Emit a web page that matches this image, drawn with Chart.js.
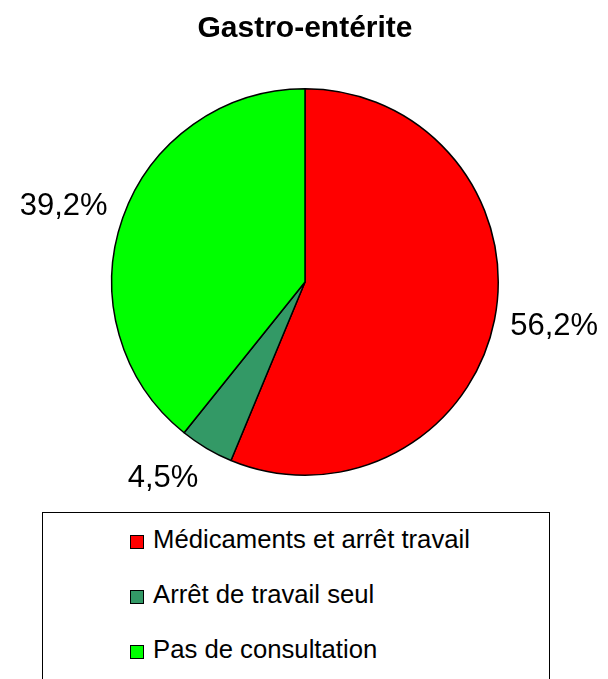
<!DOCTYPE html>
<html>
<head>
<meta charset="utf-8">
<script src="https://cdn.jsdelivr.net/npm/chart.js@4/dist/chart.umd.min.js"></script>
<style>
  body { margin: 0; background: #fff; overflow: hidden; }
  #wrap { position: relative; width: 608px; height: 679px; }
  #myChart { position: absolute; left: 0; top: 0; }
  .legendBox {
    position: absolute; left: 42px; top: 512px; width: 506px; height: 200px;
    border: 1px solid #000; background: #fff;
    font-family: "Liberation Sans", Arial, sans-serif; font-size: 25.7px; color: #000;
  }
  .legendBox .item { position: absolute; left: 0; height: 55px; line-height: 55px; white-space: nowrap; }
  .legendBox .sq { position: absolute; left: 87px; top: 23px; width: 12px; height: 12px; border: 1px solid #000; }
  .legendBox .txt { position: absolute; left: 110px; top: 0; }
</style>
</head>
<body>
<div id="wrap">
  <canvas id="myChart" width="608" height="679"></canvas>
  <div class="legendBox" id="legend"></div>
</div>
<script>
// données
var categories = ['Médicaments et arrêt travail', 'Arrêt de travail seul', 'Pas de consultation'];
var values = [56.2, 4.5, 39.2];
var colors = ['#ff0000', '#339966', '#00ff00'];
var chartTitle = 'Gastro-entérite';

var FONT = '"Liberation Sans", Arial, sans-serif';

function fmt(v){
	return v.toFixed(1).replace('.', ',') + '%';
}

// étiquettes à l'extérieur des parts
var outsideLabels = {
	id: 'outsideLabels',
	afterDatasetsDraw: function(chart){
		var ctx = chart.ctx;
		var meta = chart.getDatasetMeta(0);
		ctx.save();
		ctx.font = '31px ' + FONT;
		ctx.fillStyle = '#000';
		ctx.textBaseline = 'middle';
		meta.data.forEach(function(arc, i){
			var p = arc.getProps(['x', 'y', 'startAngle', 'endAngle', 'outerRadius'], true);
			var mid = (p.startAngle + p.endAngle) / 2;
			var c = Math.cos(mid), s = Math.sin(mid);
			var r = p.outerRadius + 16;
			var ax = p.x + r * c;
			var ay = p.y + r * s + s * 19;
			ctx.textAlign = c >= 0 ? 'left' : 'right';
			ctx.fillText(fmt(values[i]), ax, ay);
		});
		ctx.restore();
	}
};

// fond blanc
var whiteBg = {
	id: 'whiteBg',
	beforeDraw: function(chart){
		var ctx = chart.ctx;
		ctx.save();
		ctx.fillStyle = '#fff';
		ctx.fillRect(0, 0, chart.width, chart.height);
		ctx.restore();
	}
};

new Chart(document.getElementById('myChart'), {
	type: 'pie',
	data: {
		labels: categories,
		datasets: [{
			data: values,
			backgroundColor: colors,
			borderColor: '#000',
			borderWidth: 1.5,
			hoverBorderWidth: 1.5
		}]
	},
	options: {
		responsive: false,
		devicePixelRatio: 1,
		animation: false,
		layout: { padding: { left: 111, right: 109, top: 0, bottom: 203 } },
		plugins: {
			legend: { display: false },
			tooltip: { enabled: false },
			title: {
				display: true,
				text: chartTitle,
				color: '#000',
				font: { family: FONT, size: 30, weight: 'bold', lineHeight: 1.2 },
				padding: { top: 10.5, bottom: 41.5 }
			}
		}
	},
	plugins: [whiteBg, outsideLabels]
});

// légende encadrée
var legend = document.getElementById('legend');
for (var i = 0; i < categories.length; i++) {
	var item = document.createElement('div');
	item.className = 'item';
	item.style.top = (i * 55 - 1) + 'px';
	item.innerHTML = '<span class="sq" style="background:' + colors[i] + '"></span><span class="txt"></span>';
	item.querySelector('.txt').textContent = categories[i];
	legend.appendChild(item);
}
</script>
</body>
</html>
